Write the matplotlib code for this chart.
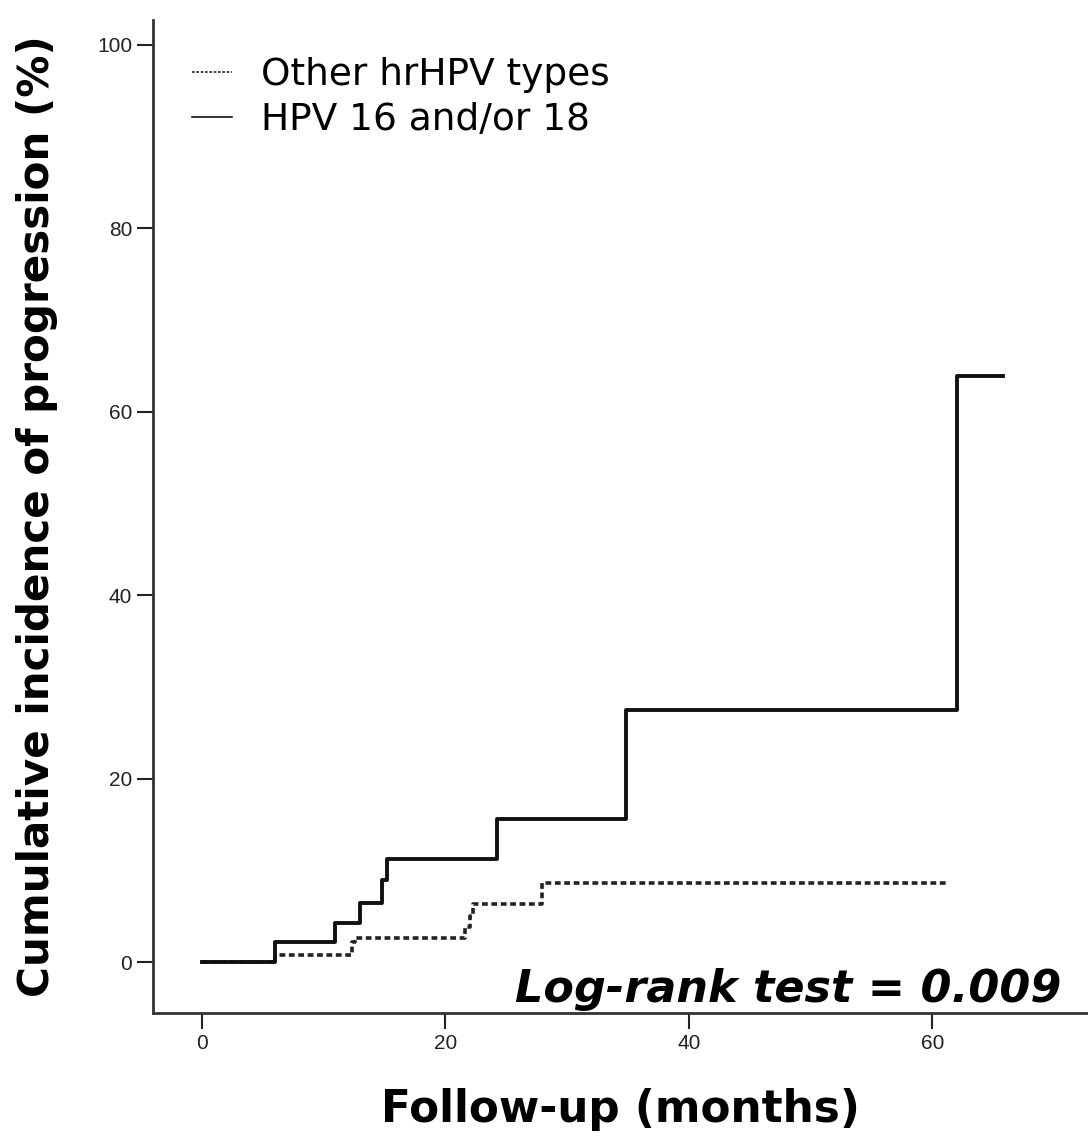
import numpy as np
import matplotlib.pyplot as plt

# step data (months, cumulative %)
hpv1618_t = [0, 6.0, 10.9, 13.0, 14.8, 15.2, 24.2, 34.8, 62.0, 65.8]
hpv1618_y = [0, 2.2, 4.3, 6.4, 8.9, 11.2, 15.6, 27.5, 63.9, 63.9]

other_t = [0, 6.0, 12.3, 12.6, 21.6, 22.0, 22.3, 27.9, 61.3]
other_y = [0, 0.8, 2.2, 2.6, 3.8, 5.0, 6.3, 8.6, 8.6]

xticks = [0, 20, 40, 60]
yticks = [0, 20, 40, 60, 80, 100]

fig = plt.figure(figsize=(10.88, 11.47), dpi=100)
ax = fig.add_axes([153/1088, 134/1147, 1 - 153/1088, (1013 - 20)/1147])

ax.step(other_t, other_y, where="post", color="#222222", lw=2.6,
        linestyle=(0, (1.6, 1.0)), label="Other hrHPV types")
ax.step(hpv1618_t, hpv1618_y, where="post", color="#111111", lw=2.8,
        label="HPV 16 and/or 18")

ax.set_xlim(-4.03, 72.8)
ax.set_ylim(-5.56, 102.7)
ax.set_xticks(xticks)
ax.set_yticks(yticks)
ax.tick_params(labelsize=15, length=11.5, width=1.5, pad=3.5, colors="#222222")
for lab in ax.get_xticklabels() + ax.get_yticklabels():
    lab.set_family(["Liberation Sans", "DejaVu Sans"])
for s in ["top", "right"]:
    ax.spines[s].set_visible(False)
for s in ["left", "bottom"]:
    ax.spines[s].set_linewidth(2)
    ax.spines[s].set_color("#333333")

ax.set_xlabel("Follow-up (months)", fontsize=31.5, fontweight="bold", labelpad=25)
ax.set_ylabel("Cumulative incidence of progression (%)", fontsize=30.3,
              fontweight="bold", labelpad=28)

leg = ax.legend(loc="upper left", bbox_to_anchor=(0.018, 0.985), frameon=False,
                fontsize=27, handlelength=1.07, handletextpad=0.75,
                labelspacing=0.24, borderaxespad=0.2)
for h in leg.get_lines():
    h.set_linewidth(1.2)

ax.text(0.972, 0.011, "Log-rank test = 0.009", transform=ax.transAxes,
        ha="right", va="baseline", fontsize=32, fontweight="bold", style="italic")

fig.savefig("out.png", dpi=100)
